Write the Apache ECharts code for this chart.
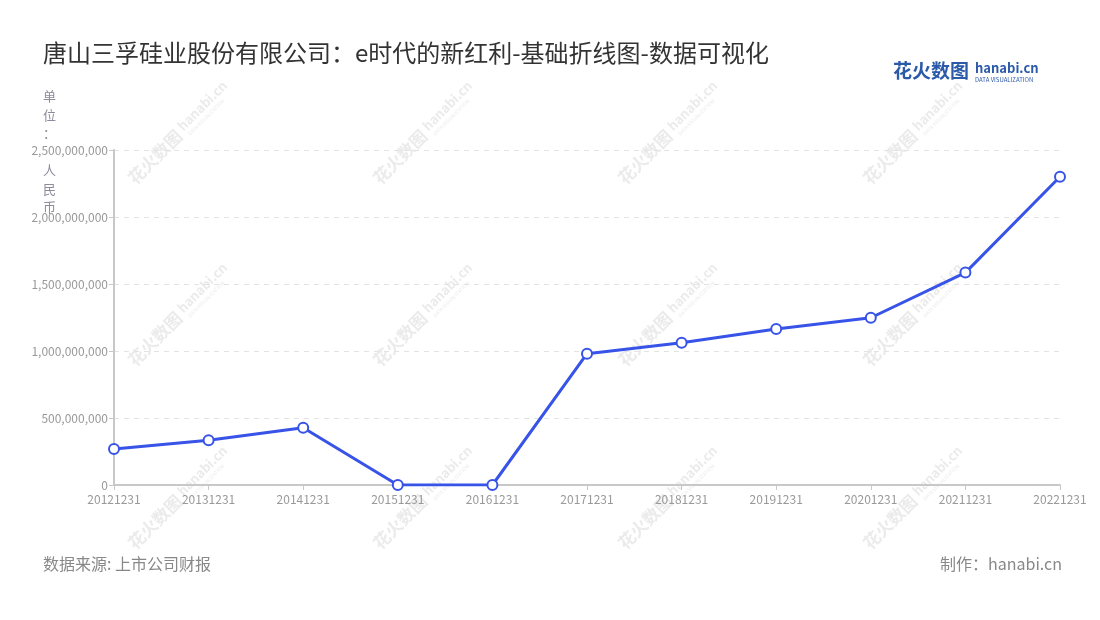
<!DOCTYPE html>
<html>
<head>
<meta charset="utf-8">
<script src="https://cdn.jsdelivr.net/npm/echarts@6/dist/echarts.min.js"></script>
<style>html,body{margin:0;padding:0;background:#fff}#c{width:1100px;height:620px}</style>
</head>
<body>
<div id="c"></div>
<script>
const categories = ['20121231','20131231','20141231','20151231','20161231','20171231','20181231','20191231','20201231','20211231','20221231'];
const values = [269000000, 334000000, 427000000, 0, 0, 980000000, 1062000000, 1164000000, 1248000000, 1585000000, 2300000000];
const titleText = '唐山三孚硅业股份有限公司：e时代的新红利-基础折线图-数据可视化';
const unitText = '单\n位\n：\n\n人\n民\n币';
const sourceText = '数据来源: 上市公司财报';
const makerText = '制作：hanabi.cn';

const FONT = '"Noto Sans CJK SC","Noto Sans",sans-serif';
const chart = echarts.init(document.getElementById('c'));

const wmCols = [172, 417, 662, 907];
const wmRows = [140, 322, 505];
const watermarks = [];
wmCols.forEach(x => wmRows.forEach(y => {
  watermarks.push({
    type: 'group', x: x, y: y, rotation: Math.PI / 4, silent: true, z: -10,
    children: [
      {type: 'text', x: -58, y: 0, style: {text: '花火数图', font: 'bold 17px ' + FONT, fill: '#ebebeb', textVerticalAlign: 'middle'}},
      {type: 'text', x: 14, y: -3, style: {text: 'hanabi.cn', font: 'bold 13px ' + FONT, fill: '#ebebeb', textVerticalAlign: 'middle'}},
      {type: 'text', x: 16, y: 8, style: {text: 'DATA VISUALIZATION', font: '5px ' + FONT, fill: '#ebebeb', textVerticalAlign: 'middle'}}
    ]
  });
}));

chart.setOption({
  backgroundColor: '#fff',
  animation: false,
  title: {
    text: titleText, left: 38, top: 36,
    textStyle: {fontFamily: FONT, fontSize: 24, fontWeight: 'normal', color: '#333'}
  },
  grid: {left: 114, right: 40, top: 150, bottom: 135},
  xAxis: {
    type: 'category', data: categories, boundaryGap: false,
    axisLine: {lineStyle: {color: '#c8c8c8', width: 2}},
    axisTick: {show: true, alignWithLabel: true, lineStyle: {color: '#c8c8c8'}},
    axisLabel: {color: '#999', fontSize: 12, fontFamily: FONT, margin: 8, interval: 0}
  },
  yAxis: {
    type: 'value', min: 0, max: 2500000000, interval: 500000000,
    axisLine: {show: true, lineStyle: {color: '#c8c8c8', width: 2}},
    axisTick: {show: true, lineStyle: {color: '#c8c8c8'}},
    axisLabel: {color: '#999', fontSize: 12, fontFamily: FONT, margin: 6,
      formatter: v => v.toLocaleString('en-US')},
    splitLine: {lineStyle: {color: '#e3e3e3', type: [5, 5]}}
  },
  series: [{
    type: 'line', data: values,
    symbol: 'emptyCircle', symbolSize: 10,
    lineStyle: {color: '#3853e8', width: 3},
    itemStyle: {color: '#3853e8', borderWidth: 2}
  }],
  graphic: watermarks.concat([
    {type: 'text', left: 43, top: 87, style: {text: unitText, font: '13px ' + FONT, fill: '#8c8c9c', lineHeight: 18.5, textAlign: 'left'}},
    {type: 'text', left: 43, top: 556, style: {text: sourceText, font: '16px ' + FONT, fill: '#888'}},
    {type: 'text', right: 38, top: 556, style: {text: makerText, font: '16px ' + FONT, fill: '#888'}},
    {type: 'text', left: 893, top: 61, style: {text: '花火数图', font: 'bold 19px ' + FONT, fill: '#2b5aa8'}},
    {type: 'text', left: 975, top: 62, style: {text: 'hanabi.cn', font: 'bold 13px ' + FONT, fill: '#2b5aa8'}},
    {type: 'text', left: 975, top: 77, style: {text: 'DATA VISUALIZATION', font: '6px ' + FONT, fill: '#2b5aa8'}}
  ])
});
</script>
</body>
</html>
